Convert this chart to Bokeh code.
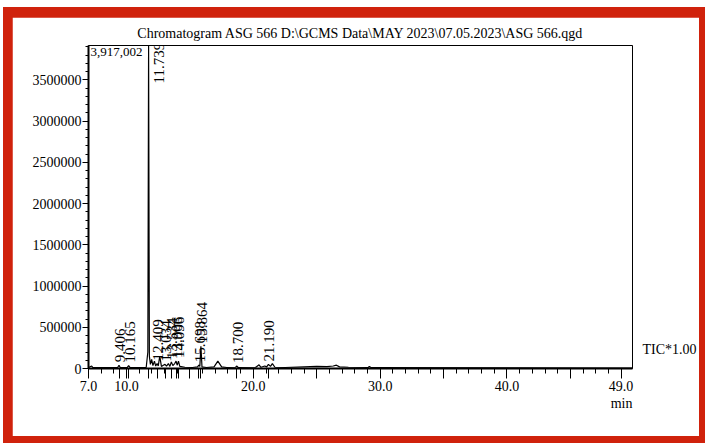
import numpy as np
from bokeh.plotting import figure
from bokeh.layouts import column
from bokeh.models import (Range1d, FixedTicker, SingleIntervalTicker, LinearAxis,
                          Title, ColumnDataSource, BasicTickFormatter)
from bokeh.core.properties import value
from bokeh.embed import file_html
from bokeh.resources import INLINE

# ---------------- data ----------------
title_text = "Chromatogram ASG 566 D:\\GCMS Data\\MAY 2023\\07.05.2023\\ASG 566.qgd"
max_label = "3,917,002"
tic_label = "TIC*1.00"
x_unit = "min"

time_min = [7.0, 7.25, 7.35, 7.45, 8.7, 9.3, 9.406, 9.5, 10.05, 10.165, 10.28,
            11.55, 11.68, 11.739, 11.80, 11.88, 11.98, 12.08, 12.2, 12.3, 12.409,
            12.5, 12.62, 12.75, 12.9, 13.034, 13.15, 13.3, 13.42, 13.534, 13.65,
            13.8, 13.906, 13.99, 14.096, 14.2, 14.6, 15.2, 15.6, 15.698, 15.78,
            15.864, 15.95, 16.3, 16.9, 17.2, 17.5, 17.9, 18.6, 18.7, 18.8, 20.2,
            20.45, 20.6, 20.9, 21.05, 21.19, 21.35, 21.5, 21.7, 22.5, 24.0, 25.0,
            25.8, 26.3, 26.55, 26.8, 27.5, 29.05, 29.15, 29.3, 49.9]
intensity = [12000, 30000, 10000, 12000, 10000, 12000, 40000, 12000, 10000, 35000, 10000,
             12000, 200000, 3917002, 150000, 50000, 110000, 35000, 90000, 30000, 60000,
             30000, 150000, 25000, 40000, 50000, 30000, 60000, 25000, 80000, 35000,
             60000, 90000, 40000, 90000, 25000, 15000, 12000, 20000, 40000, 25000,
             270000, 20000, 12000, 20000, 90000, 20000, 12000, 15000, 30000, 12000, 15000,
             45000, 15000, 30000, 20000, 50000, 25000, 60000, 15000, 12000, 20000, 25000,
             22000, 30000, 40000, 20000, 15000, 12000, 25000, 10000, 6000]

peak_rt = [9.406, 10.165, 11.739, 12.409, 13.034, 13.534, 13.906, 14.096,
           15.698, 15.864, 18.700, 21.190]
peak_height = [40000, 35000, 3917002, 60000, 50000, 80000, 90000, 90000,
               40000, 270000, 30000, 50000]
peak_text = ["9.406", "10.165", "11.739", "12.409", "13.034", "13.534", "13.906",
             "14.096", "15.698", "15.864", "18.700", "21.190"]

x_tick_values = [7, 10, 15, 20, 25, 30, 35, 40, 45, 49]
x_tick_labels = ["7.0", "10.0", "", "20.0", "", "30.0", "", "40.0", "", "49.0"]

# ---------------- figure ----------------
FONT = "Liberation Serif"
RED = "#d0220c"
y_max = max(intensity)
x_start, x_end = 7.0, 49.9

p = figure(width=687, height=419,
           x_range=Range1d(x_start, x_end), y_range=Range1d(0, y_max),
           output_backend="svg", toolbar_location=None,
           min_border_left=76, min_border_right=66, min_border_top=28, min_border_bottom=68,
           margin=(10, 6, 7, 9))
p.background_fill_color = "white"
p.border_fill_color = "white"
p.outline_line_color = "black"
p.outline_line_width = 1
p.xgrid.visible = False
p.ygrid.visible = False

p.title.text = title_text
p.title.align = "center"
p.title.text_font = FONT
p.title.text_font_size = "14px"
p.title.text_font_style = "normal"
p.title.text_color = "black"

# x axis
xa = p.xaxis[0]
xa.ticker = FixedTicker(ticks=x_tick_values + peak_rt, minor_ticks=list(range(7, 51)))
overrides = {v: l for v, l in zip(x_tick_values, x_tick_labels)}
overrides.update({rt: "" for rt in peak_rt})
xa.major_label_overrides = overrides
xa.major_tick_out = 10
xa.major_tick_in = 0
xa.minor_tick_out = 5
xa.minor_tick_in = 0
xa.axis_line_width = 2
xa.major_label_standoff = 2
xa.major_label_text_font = FONT
xa.major_label_text_font_size = "14px"
xa.major_label_text_color = "black"

# y axis
ya = p.yaxis[0]
ya.ticker = SingleIntervalTicker(interval=500000, num_minor_ticks=5)
ya.formatter = BasicTickFormatter(use_scientific=False)
ya.major_tick_out = 6
ya.major_tick_in = 0
ya.minor_tick_out = 3
ya.minor_tick_in = 0
ya.axis_line_width = 2
ya.major_label_standoff = 1
ya.major_label_text_font = FONT
ya.major_label_text_font_size = "14px"
ya.major_label_text_color = "black"

# "TIC*1.00" label on the right via a tickless axis
tic_y = 0.06 * y_max
tic_axis = LinearAxis(ticker=FixedTicker(ticks=[tic_y]),
                      major_label_overrides={tic_y: tic_label},
                      axis_line_color=None, major_tick_line_color=None,
                      minor_tick_line_color=None, major_tick_out=0, major_tick_in=0,
                      major_label_standoff=10, major_label_text_font=FONT,
                      major_label_text_font_size="14px", major_label_text_color="black")
p.add_layout(tic_axis, "right")

# "min" unit label
p.add_layout(Title(text=x_unit, align="right", text_font=FONT, text_font_size="14px",
                   text_font_style="normal", text_color="black", standoff=0), "below")

# trace
p.line(time_min, intensity, line_color="black", line_width=1.2)

# peak labels
is_main = [h == y_max for h in peak_height]
src = ColumnDataSource(dict(
    x=peak_rt, y=peak_height, text=peak_text,
    xoff=[10 if m else 1 for m in is_main],
    yoff=[38 if m else -3 for m in is_main]))
p.text(x="x", y="y", text="text", source=src, angle=np.pi / 2,
       x_offset="xoff", y_offset="yoff", text_align="left", text_baseline="middle",
       text_font=value(FONT), text_font_size="15px", text_color="black")

# max intensity label at top-left
p.text(x=[x_start], y=[y_max], text=[max_label], x_offset=2, y_offset=2,
       text_align="left", text_baseline="top", text_font=value(FONT),
       text_font_size="13px", text_color="black")

page = column(p, margin=(7, 0, 0, 3), styles={"background-color": RED})
open("out.html", "w").write(file_html(page, INLINE))
